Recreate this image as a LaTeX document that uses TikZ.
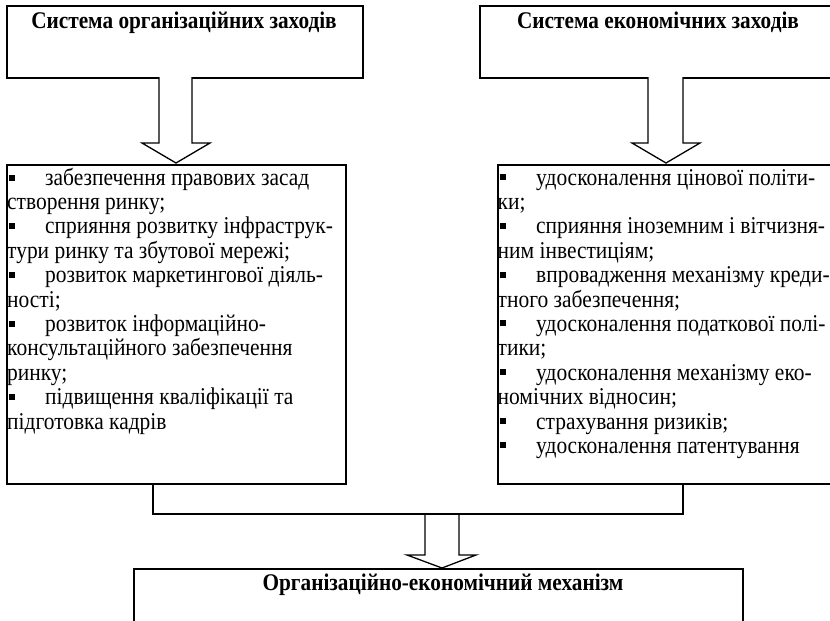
\documentclass[tikz,border=0pt]{standalone}
\usepackage{fontspec}
\setmainfont{Liberation Serif}[FakeStretch=0.89]
\tikzset{
  boxnode/.style={draw, line width=1.6pt, anchor=north west, inner sep=0pt},
  headtxt/.style={font=\fontsize{23.9}{26}\selectfont\bfseries, inner sep=0pt, anchor=base},
  bodytxt/.style={font=\fontsize{24.1}{26}\selectfont, inner sep=0pt, anchor=base west},
  blockarrow/.style={draw, line width=1.3pt, fill=white, line join=miter},
  linkline/.style={draw, line width=1.4pt},
  bulletmark/.style={fill=black}
}
\begin{document}
\begin{tikzpicture}[x=1pt,y=-1pt]
\useasboundingbox (0,0) rectangle (830,621);
\clip (0,0) rectangle (830,621);
% top boxes
\node[boxnode, minimum width=356pt, minimum height=72pt] (org) at (6,5) {};
\node[boxnode, minimum width=380pt, minimum height=72pt] (eco) at (479,5) {};
\node[headtxt] (orgt) at (184,28) {Система організаційних заходів};
\node[headtxt] (ecot) at (658,28) {Система економічних заходів};
% list boxes
\node[boxnode, minimum width=339pt, minimum height=319pt] (lorg) at (6,164) {};
\node[boxnode, minimum width=360pt, minimum height=319pt] (leco) at (497,164) {};
% bottom box
\node[boxnode, minimum width=609pt, minimum height=80pt] (mech) at (133,568) {};
\node[headtxt] (mecht) at (443,590) {Організаційно-економічний механізм};
% block arrows
\path[blockarrow] (159,77) -- (159,143) -- (142,143) -- (176,163) -- (210,143) -- (192,143) -- (192,77);
\path[blockarrow] (648,77) -- (648,143) -- (632,143) -- (666,163) -- (700,143) -- (683,143) -- (683,77);
\path[blockarrow] (425,514) -- (425,555) -- (407,555) -- (442,568) -- (476,555) -- (459,555) -- (459,514);
% connector
\coordinate (jl) at (153,514);
\coordinate (jr) at (683,514);
\path[linkline] (lorg.south -| jl) -- (jl) -- (jr) -- (leco.south -| jr);
% left list
\foreach \y in {185,233.8,282.6,331.4,404.6}{\fill[bulletmark] (9,\y-10.5) rectangle (15,\y-4.5);}
\node[bodytxt] (a1) at (45,185) {забезпечення правових засад};
\node[bodytxt] (a2) at (7,209.4) {створення ринку;};
\node[bodytxt] (a3) at (45,233.8) {сприяння розвитку інфраструк-};
\node[bodytxt] (a4) at (7,258.2) {тури ринку та збутової мережі;};
\node[bodytxt] (a5) at (45,282.6) {розвиток маркетингової діяль-};
\node[bodytxt] (a6) at (7,307) {ності;};
\node[bodytxt] (a7) at (45,331.4) {розвиток інформаційно-};
\node[bodytxt] (a8) at (7,355.8) {консультаційного забезпечення};
\node[bodytxt] (a9) at (7,380.2) {ринку;};
\node[bodytxt] (a10) at (45,404.6) {підвищення кваліфікації та};
\node[bodytxt] (a11) at (7,429) {підготовка кадрів};
% right list
\foreach \y in {185,233.8,282.6,331.4,380.2,429,453.4}{\fill[bulletmark] (500,\y-11) rectangle (506,\y-5);}
\node[bodytxt] (b1) at (536,185) {удосконалення цінової політи-};
\node[bodytxt] (b2) at (497.5,209.4) {ки;};
\node[bodytxt] (b3) at (536,233.8) {сприяння іноземним і вітчизня-};
\node[bodytxt] (b4) at (497.5,258.2) {ним інвестиціям;};
\node[bodytxt] (b5) at (536,282.6) {впровадження механізму креди-};
\node[bodytxt] (b6) at (497.5,307) {тного забезпечення;};
\node[bodytxt] (b7) at (536,331.4) {удосконалення податкової полі-};
\node[bodytxt] (b8) at (497.5,355.8) {тики;};
\node[bodytxt] (b9) at (536,380.2) {удосконалення механізму еко-};
\node[bodytxt] (b10) at (497.5,404.6) {номічних відносин;};
\node[bodytxt] (b11) at (536,429) {страхування ризиків;};
\node[bodytxt] (b12) at (536,453.4) {удосконалення патентування};
\end{tikzpicture}
\end{document}
